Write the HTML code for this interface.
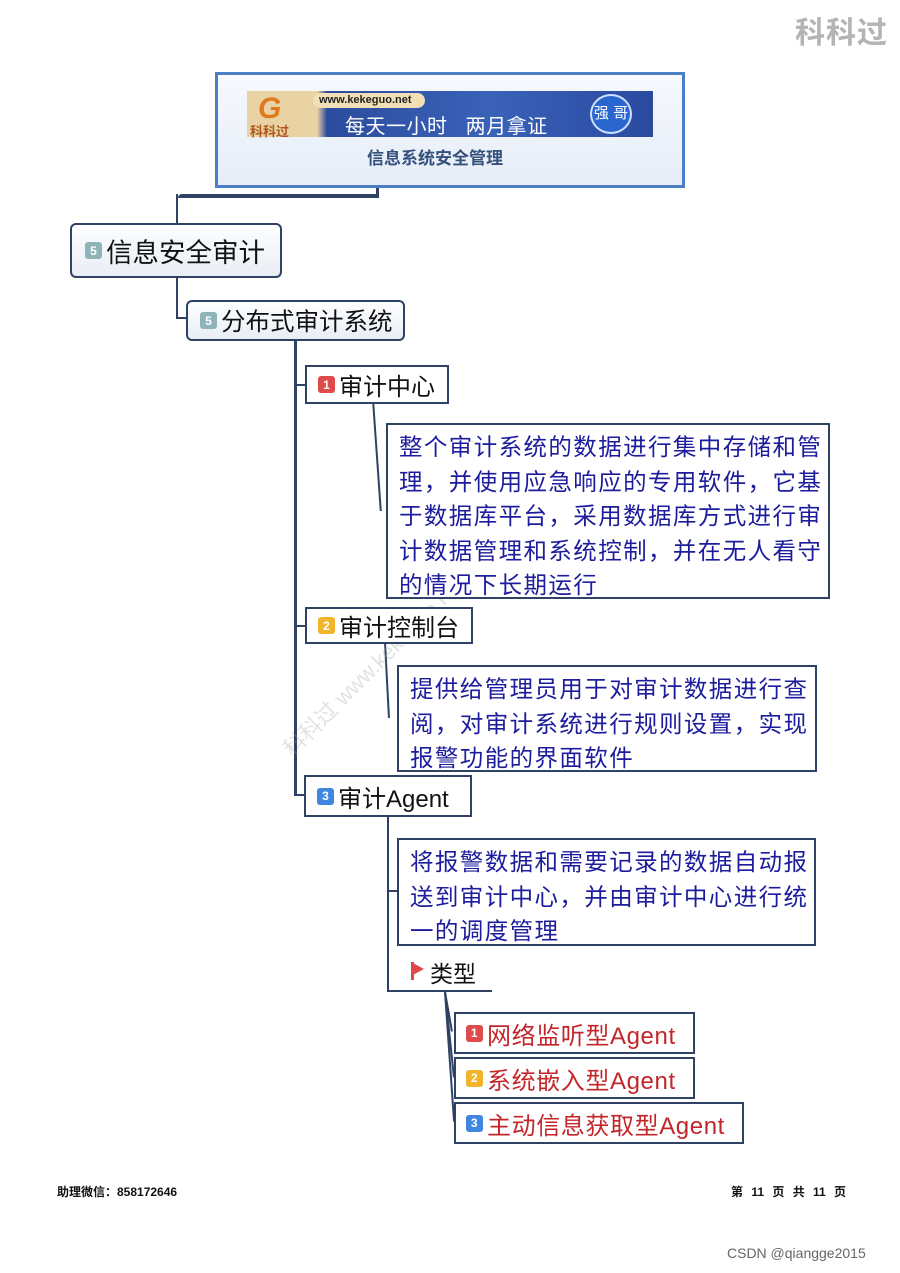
<!DOCTYPE html>
<html><head><meta charset="utf-8">
<style>
*{margin:0;padding:0;box-sizing:border-box}
body{width:900px;height:1273px;background:#fff;position:relative;overflow:hidden;font-family:"Liberation Sans","Noto Sans CJK SC",sans-serif}
.a{position:absolute}
.box{position:absolute;border:2px solid #2f4263;background:#fff;white-space:nowrap;color:#111;display:flex;align-items:center}
.rnd{border-radius:6px;background:linear-gradient(#fdfeff,#e9eef5)}
.bd{width:17px;height:17px;border-radius:3px;color:#fff;font-size:12px;font-weight:bold;display:inline-flex;align-items:center;justify-content:center;margin-right:4px;flex:none}
.desc{position:absolute;border:2px solid #2f4263;background:#fff;color:#1c1c9c;font-size:23.5px;line-height:34.5px;padding:5px 0 0 11px;letter-spacing:1.4px;white-space:nowrap;overflow:hidden}
.ln{position:absolute;background:#2f4263}
.red{color:#c3262a}
</style></head><body>
<div class="a" style="left:795px;top:8px;font-size:30px;font-weight:bold;color:#b4b4b4;letter-spacing:1px">科科过</div>

<!-- title -->
<div class="a" style="left:215px;top:72px;width:470px;height:116px;border:3px solid #4c7fc8;background:linear-gradient(#f6f9fd,#e6edf7)"></div>
<div class="a" style="left:247px;top:91px;width:406px;height:46px;background:linear-gradient(90deg,#e9d3a5 0,#e9d3a5 70px,#2b4c9e 80px,#3a62b8 60%,#2a4aa0 100%)"></div>
<div class="a" style="left:258px;top:92px;font-size:30px;color:#e07a20;font-weight:bold;font-style:italic">G</div>
<div class="a" style="left:250px;top:121px;font-size:13px;color:#b0561c;font-weight:bold">科科过</div>
<div class="a" style="left:313px;top:93px;width:112px;height:15px;background:#f1dfb5;border-radius:8px;font-size:11px;font-weight:bold;color:#222;padding-left:6px;line-height:15px">www.kekeguo.net</div>
<div class="a" style="left:345px;top:110px;font-size:20px;color:#fff;letter-spacing:0.5px">每天一小时&nbsp;&nbsp;&nbsp;两月拿证</div>
<div class="a" style="left:590px;top:94px;width:42px;height:40px;border-radius:50%;background:#2a66d0;border:2px solid #cfe0ff;color:#fff;font-size:15px;text-align:center;line-height:36px">强 哥</div>
<div class="a" style="left:367px;top:144px;font-size:17px;font-weight:bold;color:#34507c">信息系统安全管理</div>

<!-- connectors -->
<div class="ln" style="left:376px;top:188px;width:3px;height:9px"></div>
<div class="ln" style="left:178px;top:194px;width:201px;height:4px;border-radius:6px 0 0 0"></div>
<div class="ln" style="left:176px;top:194px;width:2px;height:30px"></div>
<div class="ln" style="left:176px;top:277px;width:2px;height:41px"></div>
<div class="ln" style="left:176px;top:317px;width:12px;height:2px"></div>
<div class="ln" style="left:294px;top:340px;width:3px;height:456px"></div>
<div class="ln" style="left:294px;top:384px;width:12px;height:2px"></div>
<div class="ln" style="left:294px;top:625px;width:12px;height:2px"></div>
<div class="ln" style="left:294px;top:794px;width:12px;height:2px"></div>
<div class="ln" style="left:376px;top:403px;width:2px;height:108px;transform:skewX(4deg)"></div>
<div class="ln" style="left:386px;top:643px;width:2px;height:75px;transform:skewX(3deg)"></div>
<div class="ln" style="left:387px;top:816px;width:2px;height:176px"></div>
<div class="ln" style="left:387px;top:890px;width:10px;height:2px"></div>
<div class="ln" style="left:387px;top:990px;width:105px;height:2px"></div>
<div class="ln" style="left:444px;top:992px;width:2px;height:40px;transform:rotate(-10deg);transform-origin:top"></div>
<div class="ln" style="left:444px;top:992px;width:2px;height:86px;transform:rotate(-6deg);transform-origin:top"></div>
<div class="ln" style="left:444px;top:992px;width:2px;height:130px;transform:rotate(-4deg);transform-origin:top"></div>

<!-- watermark -->
<div class="a" style="left:275px;top:740px;font-size:22px;color:rgba(160,160,160,0.3);transform:rotate(-45deg);transform-origin:left top;white-space:nowrap">科科过 www.kekeguo.net 强哥</div>

<!-- nodes -->
<div class="box rnd" style="left:70px;top:223px;width:212px;height:55px;font-size:26.5px;padding-left:13px"><span class="bd" style="background:#8fb4b8">5</span>信息安全审计</div>
<div class="box rnd" style="left:186px;top:300px;width:219px;height:41px;font-size:24.5px;padding-left:12px"><span class="bd" style="background:#8fb4b8">5</span>分布式审计系统</div>

<div class="box" style="left:305px;top:365px;width:144px;height:39px;font-size:24px;padding-left:11px"><span class="bd" style="background:#de4b4b">1</span>审计中心</div>
<div class="desc" style="left:386px;top:423px;width:444px;height:176px">整个审计系统的数据进行集中存储和管<br>理，并使用应急响应的专用软件，它基<br>于数据库平台，采用数据库方式进行审<br>计数据管理和系统控制，并在无人看守<br>的情况下长期运行</div>

<div class="box" style="left:305px;top:607px;width:168px;height:37px;font-size:24px;padding-left:11px"><span class="bd" style="background:#f2b42a">2</span>审计控制台</div>
<div class="desc" style="left:397px;top:665px;width:420px;height:107px">提供给管理员用于对审计数据进行查<br>阅，对审计系统进行规则设置，实现<br>报警功能的界面软件</div>

<div class="box" style="left:304px;top:775px;width:168px;height:42px;font-size:24px;padding-left:11px"><span class="bd" style="background:#3f86e0">3</span>审计Agent</div>
<div class="desc" style="left:397px;top:838px;width:419px;height:108px">将报警数据和需要记录的数据自动报<br>送到审计中心，并由审计中心进行统<br>一的调度管理</div>

<div class="a" style="left:411px;top:962px;width:0;height:0;border-left:13px solid #e04848;border-top:7px solid transparent;border-bottom:7px solid transparent"></div>
<div class="a" style="left:411px;top:962px;width:3px;height:18px;background:#e04848"></div>
<div class="a" style="left:430px;top:955px;font-size:23px;color:#111">类型</div>

<div class="box red" style="left:454px;top:1012px;width:241px;height:42px;font-size:24px;padding-left:10px;letter-spacing:0.6px"><span class="bd" style="background:#de4b4b">1</span>网络监听型Agent</div>
<div class="box red" style="left:454px;top:1057px;width:241px;height:42px;font-size:24px;padding-left:10px;letter-spacing:0.6px"><span class="bd" style="background:#f2b42a">2</span>系统嵌入型Agent</div>
<div class="box red" style="left:454px;top:1102px;width:290px;height:42px;font-size:24px;padding-left:10px;letter-spacing:0.6px"><span class="bd" style="background:#3f86e0">3</span>主动信息获取型Agent</div>

<div class="a" style="left:57px;top:1183px;font-size:12px;font-weight:bold;color:#111">助理微信：858172646</div>
<div class="a" style="left:731px;top:1183px;font-size:12px;font-weight:bold;color:#111;word-spacing:5px">第 11 页 共 11 页</div>
<div class="a" style="left:727px;top:1245px;font-size:14px;color:#666">CSDN @qiangge2015</div>
</body></html>
